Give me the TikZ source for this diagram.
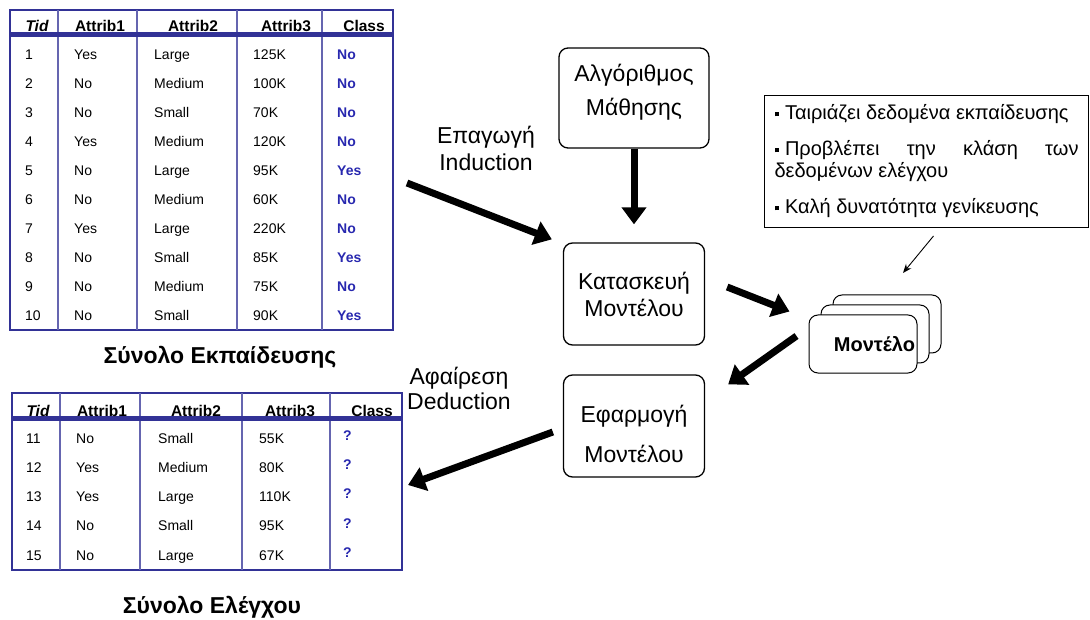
\documentclass[tikz,border=0pt]{standalone}
\usepackage{fontspec}
\setmainfont{Liberation Sans}
\usetikzlibrary{arrows.meta,positioning}

\definecolor{tabblue}{RGB}{50,50,150}
\definecolor{classblue}{RGB}{40,40,175}

\tikzset{
  fatarrow/.style={line width=7pt,-{Triangle[length=17pt,width=24pt]}},
  stepbox/.style={draw,line width=1.3pt,rounded corners=9pt,align=center,
    font=\fontsize{23}{27}\selectfont},
  cell/.style={anchor=base west,inner sep=0pt,font=\fontsize{14}{16}\selectfont},
  headcell/.style={anchor=base,inner sep=0pt,font=\bfseries\fontsize{15.5}{18}\selectfont},
  setlabel/.style={font=\bfseries\fontsize{23}{26}\selectfont},
  stackbox/.style={draw,line width=1pt,rounded corners=9pt,fill=white}
}
\newcommand{\sqb}{\raisebox{3.5pt}{\rule{4.5pt}{4.5pt}}\kern6pt}

\begin{document}
\begin{tikzpicture}[x=1pt,y=-1pt]
\useasboundingbox (0,0) rectangle (1090,620);

% Training set
\draw[tabblue,line width=1.5pt] (10,10) rectangle (393,330);
\foreach \x in {58,137,237,322}
  \draw[tabblue!75,line width=1.5pt] (\x,10) -- (\x,330);
\draw[tabblue,line width=5pt] (10,35) -- (393,35);
\node[headcell] (trh1) at (37,32) {\itshape Tid};
\node[headcell] (trh2) at (100,32) {Attrib1};
\node[headcell] (trh3) at (193,32) {Attrib2};
\node[headcell] (trh4) at (286,32) {Attrib3};
\node[headcell] (trh5) at (364,32) {Class};
\foreach \n/\a/\b/\c/\k [count=\i] in {1/Yes/Large/125K/No,2/No/Medium/100K/No,
  3/No/Small/70K/No,4/Yes/Medium/120K/No,5/No/Large/95K/Yes,6/No/Medium/60K/No,
  7/Yes/Large/220K/No,8/No/Small/85K/Yes,9/No/Medium/75K/No,10/No/Small/90K/Yes} {
  \node[cell] (tr\i n) at (25,31+29*\i) {\n};
  \node[cell] (tr\i a) at (74,31+29*\i) {\a};
  \node[cell] (tr\i b) at (154,31+29*\i) {\b};
  \node[cell] (tr\i c) at (253,31+29*\i) {\c};
  \node[cell,classblue,font=\bfseries\fontsize{14}{16}\selectfont] (tr\i k) at (337,31+29*\i) {\k};
}
\node[setlabel] (trainlbl) at (220,357) {Σύνολο Εκπαίδευσης};

% Test set
\draw[tabblue,line width=1.5pt] (12,393) rectangle (402,570);
\foreach \x in {60,140,242,330}
  \draw[tabblue!75,line width=1.5pt] (\x,393) -- (\x,570);
\draw[tabblue,line width=5pt] (12,418) -- (402,418);
\node[headcell] (tsh1) at (38,416) {\itshape Tid};
\node[headcell] (tsh2) at (102,416) {Attrib1};
\node[headcell] (tsh3) at (196,416) {Attrib2};
\node[headcell] (tsh4) at (290,416) {Attrib3};
\node[headcell] (tsh5) at (372,416) {Class};
\foreach \n/\a/\b/\c [count=\i] in {11/No/Small/55K,12/Yes/Medium/80K,
  13/Yes/Large/110K,14/No/Small/95K,15/No/Large/67K} {
  \node[cell] (ts\i n) at (26,413.7+29.3*\i) {\n};
  \node[cell] (ts\i a) at (76,413.7+29.3*\i) {\a};
  \node[cell] (ts\i b) at (158,413.7+29.3*\i) {\b};
  \node[cell] (ts\i c) at (259,413.7+29.3*\i) {\c};
  \node[cell,classblue,font=\bfseries\fontsize{14}{16}\selectfont] (ts\i k) at (343,411+29.3*\i) {?};
}
\node[setlabel] (testlbl) at (212,607) {Σύνολο Ελέγχου};

% Steps
\node[stepbox,minimum width=150pt,minimum height=100pt] (alg) at (634,98)
  {Αλγόριθμος\\[7pt]Μάθησης\\[-11pt]\mbox{}};
\node[stepbox,minimum width=141pt,minimum height=102pt] (kat) at (634,294)
  {Κατασκευή\\Μοντέλου};
\node[stepbox,minimum width=141pt,minimum height=102pt] (efa) at (634,426)
  {\rule{0pt}{34pt}Εφαρμογή\\[13pt]Μοντέλου};

\node[align=center,font=\fontsize{23}{27}\selectfont] (indlbl) at (486,148) {Επαγωγή\\Induction};
\node[align=center,font=\fontsize{23}{25}\selectfont] (dedlbl) at (459,388) {Αφαίρεση\\Deduction};

% Model stack
\draw[stackbox] (833,295) rectangle (941,353);
\draw[stackbox] (821,305) rectangle (929,363);
\node[stackbox,minimum height=58pt,text width=104pt,inner xsep=2pt,align=right,
  font=\bfseries\fontsize{20}{22}\selectfont] (model) at (863,344) {Μοντέλο};

% Note
\node[draw,line width=1pt,anchor=north west,text width=304pt,inner xsep=10pt,
  inner ysep=6pt,minimum height=132pt,align=justify,
  font=\fontsize{20}{22}\selectfont] (note) at (764,95)
  {\sqb Ταιριάζει δεδομένα εκπαίδευσης\par\vspace{14pt}
   \sqb Προβλέπει την κλάση των δεδομένων ελέγχου\par\vspace{14pt}
   \sqb Καλή δυνατότητα γενίκευσης};

% Arrows
\coordinate (indS) at (407,183);
\coordinate (dedE) at (408,485);
\coordinate (ptrE) at (903,273);
\draw[fatarrow,shorten >=18pt] (alg.south) -- (kat.north);
\draw[fatarrow] (indS) -- ([xshift=-11pt,yshift=3pt]kat.north west);
\draw[fatarrow] ([xshift=22pt,yshift=7pt]kat.east) -- ([xshift=-19pt,yshift=3pt]model.north west);
\draw[fatarrow] ([xshift=-12pt,yshift=8pt]model.west) -- ([xshift=23pt,yshift=-10pt]efa.north east);
\draw[fatarrow] ([xshift=-10pt,yshift=-6pt]efa.west) -- (dedE);
\draw[line width=0.9pt,-{Stealth[length=9pt,width=7pt]}] ([xshift=7pt,yshift=-8pt]note.south) -- (ptrE);
\end{tikzpicture}
\end{document}
